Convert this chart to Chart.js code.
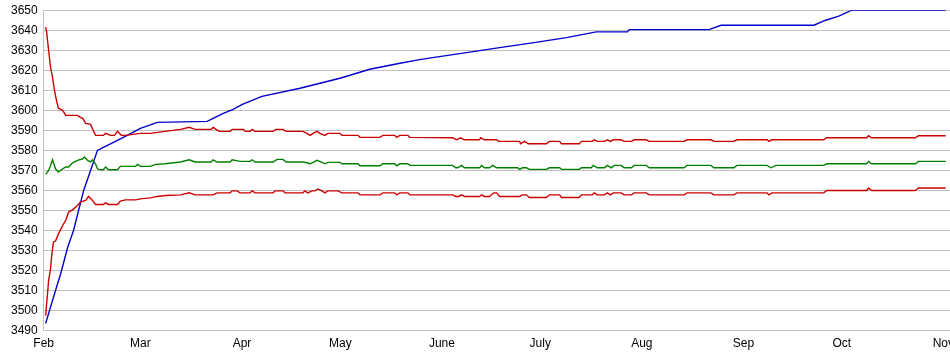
<!DOCTYPE html>
<html><head><meta charset="utf-8">
<script src="https://cdn.jsdelivr.net/npm/chart.js@4/dist/chart.umd.min.js"></script>
<style>
html,body{margin:0;padding:0;background:#fff;overflow:hidden;}
#wrap{width:950px;height:355px;overflow:hidden;position:relative;}
#box{width:960px;height:358px;position:absolute;left:0;top:-3px;}
</style></head><body>
<div id="wrap"><div id="box"><canvas id="c" width="960" height="358"></canvas></div></div>
<script>
// x = day offset from Feb 1
const monthTicks = [-1.5, 28, 59, 89, 120, 150, 181, 212, 242, 273];
const monthLabels = ['Feb','Mar','Apr','May','June','July','Aug','Sep','Oct','Nov'];
const yTicksMin = 3490, yTicksMax = 3650, yStep = 10;

const blueLine = [[-0.9,3493.6],[2.1,3510],[3.7,3518.5],[5.8,3531.5],[7.6,3540],[10.7,3560],[12.8,3570],[14.9,3580],[16.7,3581.5],[19.8,3584],[24.0,3587.5],[28.0,3591],[33.2,3594],[48.4,3594.5],[50.2,3596],[53.3,3598.5],[56.3,3600.5],[59.1,3603],[62.1,3605],[65.1,3607],[76.7,3611],[88.9,3616],[98.0,3620.5],[107.2,3623.5],[113.2,3625.3],[117.2,3626.3],[127.5,3628.8],[137.6,3631.3],[147.6,3633.7],[158.0,3636.3],[167.1,3639.2],[176.6,3639.2],[177.2,3640.3],[201.5,3640.3],[205.2,3642.5],[233.5,3642.5],[237.1,3645],[241.1,3647],[245.1,3650],[273.7,3650]];

const upperRed = [[-0.9,3641.5],[-0.6,3639],[0,3630],[0.6,3621.5],[1.2,3616.5],[1.8,3610],[2.4,3605],[3.0,3601],[4.3,3600],[5.2,3597.5],[8.8,3597.5],[9.7,3596.5],[10.4,3596],[11.3,3593.5],[12.8,3593],[14.3,3587.5],[16.7,3587.5],[17.4,3588.5],[18.9,3587.5],[20.1,3587.5],[21.0,3589.5],[22.2,3587.5],[23.4,3587.5],[28.0,3588.5],[31.1,3588.5],[35.6,3589.5],[40.2,3590.5],[42.9,3591.5],[44.7,3590.5],[49.6,3590.5],[50.2,3591.5],[51.1,3590.5],[52.1,3589.5],[55.4,3589.5],[56.0,3590.5],[59.4,3590.5],[60.0,3589.5],[61.5,3589.5],[62.1,3590.5],[63.0,3589.5],[68.5,3589.5],[69.4,3590.5],[71.5,3590.5],[72.5,3589.5],[77.6,3589.5],[78.8,3588.5],[79.8,3587.5],[80.7,3588.5],[81.9,3589.5],[82.8,3588.5],[84.3,3587.5],[85.2,3588.5],[88.9,3588.5],[89.5,3587.5],[94.4,3587.5],[95.0,3586.5],[101.1,3586.5],[102.0,3587.5],[105.6,3587.5],[106.2,3586.5],[107.2,3587.5],[109.6,3587.5],[110.2,3586.5],[123.3,3586.3],[124.5,3585.3],[125.7,3586.3],[126.9,3585.3],[131.5,3585.3],[131.8,3586.3],[133.0,3585.3],[136.7,3585.3],[137.3,3584.5],[143.7,3584.5],[144.0,3583.3],[145.2,3584.5],[146.4,3583.3],[151.9,3583.3],[152.8,3584.5],[155.9,3584.5],[156.5,3583.3],[161.9,3583.3],[162.6,3584.5],[165.9,3584.5],[166.5,3585.3],[167.4,3584.5],[169.6,3584.5],[170.5,3585.3],[171.4,3584.5],[172.3,3585.3],[174.7,3585.3],[175.6,3584.5],[177.8,3584.5],[178.7,3585.3],[182.3,3585.3],[183.3,3584.5],[193.9,3584.5],[194.8,3585.3],[202.1,3585.3],[203.0,3584.5],[209.1,3584.5],[210.0,3585.3],[219.2,3585.3],[219.8,3584.5],[220.7,3585.3],[236.5,3585.3],[237.4,3586.3],[249.6,3586.3],[250.2,3587.3],[251.1,3586.3],[264.5,3586.3],[265.4,3587.3],[273.7,3587.3]];

const greenLine = [[-0.9,3568],[0,3570],[0.6,3572.5],[1.2,3575.3],[2.1,3570.8],[3.0,3569.2],[4.3,3570.8],[5.2,3571.7],[6.1,3571.7],[7.3,3573.8],[8.8,3575],[10.4,3575.8],[11.0,3576.7],[11.9,3575],[12.8,3574.2],[13.4,3575.3],[14.3,3573.3],[14.9,3570.8],[15.8,3570.3],[16.7,3570.3],[17.4,3571.7],[18.3,3570.3],[21.0,3570.3],[21.9,3572],[26.5,3572],[27.1,3573],[28.0,3572],[31.1,3572],[32.6,3573],[35.6,3573.3],[40.2,3574.2],[42.9,3575.3],[44.7,3574.2],[49.6,3574.2],[50.2,3575.3],[51.4,3574.2],[55.4,3574.2],[56.0,3575.3],[58.4,3574.5],[61.5,3574.5],[62.1,3575.3],[63.0,3574.2],[68.5,3574.2],[69.7,3575.5],[71.5,3575.5],[72.5,3574.2],[77.6,3574.2],[78.8,3573.8],[79.8,3573.3],[80.7,3574],[81.9,3575],[83.4,3574],[84.3,3573.3],[85.2,3574],[88.9,3574],[89.5,3573.3],[94.4,3573.3],[95.0,3572.3],[101.1,3572.3],[102.0,3573.3],[105.6,3573.3],[106.2,3572.3],[107.2,3573.3],[109.6,3573.3],[110.2,3572.5],[123.3,3572.5],[124.2,3571.3],[124.8,3571.3],[126.0,3572.5],[126.9,3571.3],[131.5,3571.3],[132.1,3572.5],[133.0,3571.3],[134.5,3571.3],[135.5,3572.5],[136.7,3571.3],[143.1,3571.3],[143.7,3570.5],[144.6,3571.3],[145.8,3571.3],[146.7,3570.5],[151.9,3570.5],[152.8,3571.3],[155.9,3571.3],[156.5,3570.5],[161.9,3570.5],[162.6,3571.3],[165.6,3571.3],[166.2,3572.5],[167.4,3571.3],[169.6,3571.3],[170.5,3572.5],[171.7,3571.3],[172.6,3572.5],[174.7,3572.5],[175.6,3571.3],[177.8,3571.3],[178.7,3572.5],[182.3,3572.5],[183.3,3571.3],[193.9,3571.3],[194.8,3572.5],[202.1,3572.5],[203.0,3571.3],[209.1,3571.3],[210.0,3572.5],[219.2,3572.5],[220.4,3571.3],[221.9,3572.5],[236.5,3572.5],[237.4,3573.3],[249.6,3573.3],[250.2,3574.5],[251.1,3573.3],[264.5,3573.3],[265.4,3574.5],[273.7,3574.5]];

const lowerRed = [[-0.9,3497.5],[-0.6,3503.5],[-0.3,3509.2],[0,3515],[0.6,3521],[0.9,3526.7],[1.2,3530.8],[1.5,3534.2],[2.1,3534.7],[3.0,3538.3],[4.3,3542.5],[5.2,3545],[6.1,3549.2],[7.3,3550.3],[8.8,3552.5],[9.7,3554.2],[11.3,3555],[12.2,3557],[13.4,3555],[14.3,3553],[16.7,3553],[17.4,3553.8],[18.3,3553],[21.0,3553],[21.9,3554.7],[23.4,3555.3],[26.5,3555.3],[28.0,3555.8],[31.1,3556.3],[33.2,3557],[35.6,3557.5],[40.2,3557.8],[42.9,3558.8],[44.7,3557.8],[50.2,3557.8],[51.4,3558.8],[55.4,3558.8],[56.0,3559.8],[57.5,3559.8],[58.4,3558.8],[61.5,3558.8],[62.1,3559.8],[63.0,3558.8],[68.5,3558.8],[69.1,3559.8],[71.5,3559.8],[72.1,3558.8],[77.6,3558.8],[78.2,3559.8],[79.1,3558.8],[80.4,3559.8],[81.3,3559.8],[82.2,3560.7],[83.4,3559.8],[84.3,3558.8],[85.2,3559.8],[88.3,3559.8],[89.5,3558.8],[94.4,3558.8],[95.0,3557.8],[101.1,3557.8],[102.0,3558.8],[105.6,3558.8],[106.2,3557.8],[107.2,3558.8],[109.6,3558.8],[110.2,3557.8],[123.3,3557.8],[124.2,3557],[125.1,3557],[126.0,3557.8],[126.9,3557],[131.5,3557],[132.1,3557.8],[133.0,3557],[134.5,3557],[135.8,3558.8],[136.7,3558.8],[137.6,3557],[143.7,3557],[144.6,3557.8],[145.8,3557.8],[146.7,3556.5],[151.9,3556.5],[152.8,3557.8],[155.9,3557.8],[156.5,3556.5],[161.9,3556.5],[162.6,3557.8],[165.9,3557.8],[166.5,3558.8],[167.4,3557.8],[169.6,3557.8],[170.5,3558.8],[171.4,3557.8],[172.3,3558.8],[174.7,3558.8],[175.6,3557.8],[177.8,3557.8],[178.7,3558.8],[182.3,3558.8],[183.3,3557.8],[193.9,3557.8],[194.8,3558.8],[202.1,3558.8],[203.0,3557.8],[209.1,3557.8],[210.0,3558.8],[219.2,3558.8],[219.8,3557.8],[220.7,3558.8],[236.5,3558.8],[237.4,3560],[249.6,3560],[250.2,3561.2],[251.1,3560],[264.5,3560],[265.4,3561.2],[273.7,3561.2]];

const toXY = arr => arr.map(p => ({x: p[0], y: p[1]}));
const FONT = {family: "'Liberation Sans', Arial, sans-serif", size: 12};
const GRID = '#c0c0c0';

function ds(data, color) {
  return {data: toXY(data), borderColor: color, backgroundColor: color, borderWidth: 1.4,
          pointRadius: 0, tension: 0, fill: false};
}

new Chart(document.getElementById('c'), {
  type: 'line',
  data: {datasets: [
    ds(lowerRed, '#cc0000'),
    ds(greenLine, '#008000'),
    ds(upperRed, '#cc0000'),
    ds(blueLine, '#0000cc')
  ]},
  options: {
    responsive: false, animation: false, devicePixelRatio: 1,
    layout: {padding: {left: 5, top: 4, right: 0, bottom: -2}},
    plugins: {legend: {display: false}, tooltip: {enabled: false}},
    scales: {
      x: {
        type: 'linear', min: -1.5, max: 277.6,
        afterBuildTicks: axis => { axis.ticks = monthTicks.map(v => ({value: v})); },
        ticks: {callback: (v, i) => monthLabels[i], font: FONT, color: '#000', padding: 6,
                autoSkip: false, maxRotation: 0},
        grid: {display: false, drawTicks: false},
        border: {display: true, color: GRID}
      },
      y: {
        min: yTicksMin, max: yTicksMax,
        ticks: {stepSize: yStep, callback: v => String(v), font: FONT, color: '#000', padding: 6},
        grid: {color: GRID, drawTicks: false, lineWidth: 1},
        border: {display: true, color: GRID}
      }
    }
  }
});
</script>
</body></html>
